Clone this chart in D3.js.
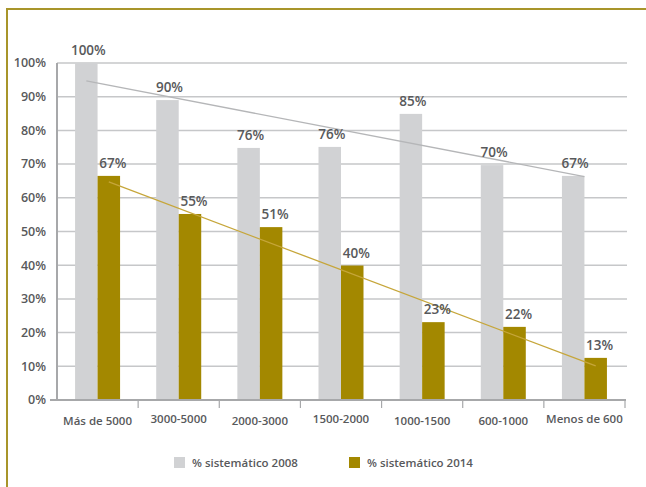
<!DOCTYPE html>
<html><head><meta charset="utf-8">
<script src="https://cdn.jsdelivr.net/npm/d3@7"></script>
<style>
html,body{margin:0;padding:0;background:#fff;}
svg{display:block;}
text{font-family:"Open Sans","Noto Sans",sans-serif;font-weight:600;}
</style></head>
<body>
<svg id="chart" width="646" height="487"></svg>
<script>
const categories = ["Más de 5000","3000-5000","2000-3000","1500-2000","1000-1500","600-1000","Menos de 600"];
const values2008 = [100, 89, 74.8, 75.1, 84.9, 69.7, 66.5];
const values2014 = [66.5, 55.2, 51.3, 39.9, 23.1, 21.7, 12.5];
const labels2008 = ["100%","90%","76%","76%","85%","70%","67%"];
const labels2014 = ["67%","55%","51%","40%","23%","22%","13%"];
const trend2008 = [94.7, 66.3];
const trend2014 = [64.7, 10.1];
const yTicks = [0,10,20,30,40,50,60,70,80,90,100];
const seriesNames = ["% sistemático 2008", "% sistemático 2014"];
const colors = ["#d1d2d4", "#a38800"];
const trendColors = ["#b5b6b8", "#c6a63a"];
const textColor = "#58595b";

const svg = d3.select("#chart");

// frame
svg.append("path").attr("d","M7,487 V9 H646").attr("fill","none").attr("stroke","#a8952a").attr("stroke-width",2);

const x = d3.scaleBand().domain(categories).range([57, 625]);
const y = d3.scaleLinear().domain([0, 100]).range([400, 63]);
const barW = 22.5;
const groupOff = (x.bandwidth() - 2*barW)/2;

// gridlines
svg.append("g").selectAll("line").data(yTicks.filter(d=>d>0)).join("line")
  .attr("x1", 57).attr("x2", 627)
  .attr("y1", d=>y(d)).attr("y2", d=>y(d))
  .attr("stroke", "#c6c7c9").attr("stroke-width", 1.5);

// y labels
svg.append("g").selectAll("text").data(yTicks).join("text")
  .attr("x", 46).attr("y", d=>y(d)).attr("dy","0.35em")
  .attr("text-anchor","end").attr("font-size",12.5).attr("fill",textColor)
  .text(d=>d+"%");

// bars
const series = [values2008, values2014];
series.forEach((vals, si) => {
  svg.append("g").selectAll("rect").data(vals).join("rect")
    .attr("x", (d,i)=> x(categories[i]) + groupOff + si*barW)
    .attr("y", d=>y(d))
    .attr("width", barW)
    .attr("height", d=> y(0)-y(d))
    .attr("fill", colors[si]);
});

// axes lines
svg.append("line").attr("x1",57).attr("x2",57).attr("y1",63).attr("y2",400)
  .attr("stroke","#a7a8aa").attr("stroke-width",2);
svg.append("line").attr("x1",50).attr("x2",626).attr("y1",400).attr("y2",400)
  .attr("stroke","#a7a8aa").attr("stroke-width",2);
// x ticks at boundaries
const bounds = categories.map(c=>x(c)+x.bandwidth());
svg.append("g").selectAll("line").data(bounds).join("line")
  .attr("x1",d=>d).attr("x2",d=>d).attr("y1",400).attr("y2",408)
  .attr("stroke","#a7a8aa").attr("stroke-width",1.2);

// category labels (alternating slight offsets as in the original)
svg.append("g").selectAll("text").data(categories).join("text")
  .attr("x", d=> x(d)+x.bandwidth()/2)
  .attr("y", (d,i)=> (i===1||i===3||i===6) ? 423 : 425)
  .attr("text-anchor","middle").attr("font-size",11.5).attr("fill",textColor)
  .text(d=>d);

// trend lines
const cx = (i, si) => x(categories[i]) + groupOff + si*barW + barW/2;
const last = categories.length-1;
svg.append("line")
  .attr("x1", cx(0,0)).attr("y1", y(trend2008[0]))
  .attr("x2", cx(last,0)+barW/2).attr("y2", y(trend2008[1]))
  .attr("stroke", trendColors[0]).attr("stroke-width",1.3);
svg.append("line")
  .attr("x1", cx(0,1)).attr("y1", y(trend2014[0]))
  .attr("x2", cx(last,1)).attr("y2", y(trend2014[1]))
  .attr("stroke", trendColors[1]).attr("stroke-width",1.3);

// value labels
const labelSets = [labels2008, labels2014];
series.forEach((vals, si) => {
  svg.append("g").selectAll("text").data(vals).join("text")
    .attr("x", (d,i)=> cx(i,si) + (si===1?4:2))
    .attr("y", d=> y(d) - 8)
    .attr("text-anchor","middle").attr("font-size",13.5).attr("fill",textColor)
    .text((d,i)=>labelSets[si][i]);
});

// legend
const legend = [{x:174, t:seriesNames[0], c:colors[0]},{x:349, t:seriesNames[1], c:colors[1]}];
const lg = svg.append("g").selectAll("g").data(legend).join("g");
lg.append("rect").attr("x",d=>d.x).attr("y",457).attr("width",11).attr("height",11).attr("fill",d=>d.c);
lg.append("text").attr("x",d=>d.x+18).attr("y",463).attr("dy","0.35em")
  .attr("font-size",11.5).attr("fill",textColor).text(d=>d.t);
</script>
</body></html>
